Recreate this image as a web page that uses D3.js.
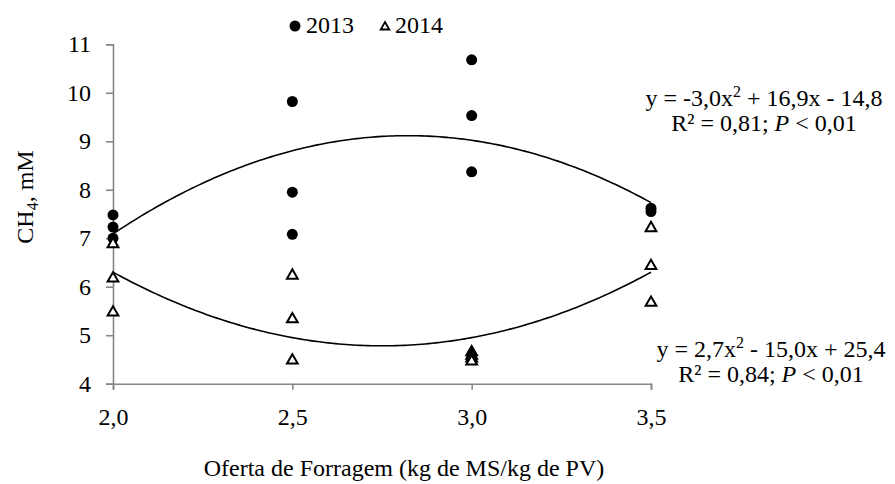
<!DOCTYPE html>
<html>
<head>
<meta charset="utf-8">
<script src="https://cdn.jsdelivr.net/npm/d3@7"></script>
<style>
	body { margin: 0; background: #fff; }
	svg text { font-family: "Liberation Serif", "Times New Roman", serif; font-size: 24px; fill: #000; }
	.axis path, .axis line { stroke: #868686; stroke-width: 1.6px; }
	.axis text { font-size: 24px; }
</style>
</head>
<body>
<script>
// chart data
var xTicks = [2.0, 2.5, 3.0, 3.5],
	yTicks = [4, 5, 6, 7, 8, 9, 10, 11];

var oferta2013 = [2.0, 2.0, 2.0, 2.5, 2.5, 2.5, 3.0, 3.0, 3.0, 3.5, 3.5],
	ch4_2013   = [7.48, 7.23, 7.00, 9.82, 7.95, 7.08, 10.68, 9.53, 8.37, 7.62, 7.55];

var oferta2014 = [2.0, 2.0, 2.0, 2.5, 2.5, 2.5, 3.0, 3.0, 3.0, 3.0, 3.5, 3.5, 3.5],
	ch4_2014   = [6.88, 6.17, 5.47, 6.23, 5.33, 4.48, 4.65, 4.58, 4.52, 4.46, 7.21, 6.43, 5.67];

// quadratic trendlines (a, b, c) as drawn
var fit2013 = [-3.0, 16.93, -14.77],
	fit2014 = [2.7, -14.85, 25.2];

var legendLabels = ["2013", "2014"];

var width = 895, height = 484;
var svg = d3.select("body").append("svg")
	.attr("width", width)
	.attr("height", height);

var xScale = d3.scaleLinear().domain([2.0, 3.5]).range([113, 651]),
	yScale = d3.scaleLinear().domain([4, 11]).range([383.7, 44.3]);

var comma = function(d) { return d3.format(".1f")(d).replace(".", ","); };

//axes
svg.append("g")
	.attr("class", "axis axis--x")
	.attr("transform", "translate(0," + yScale(4) + ")")
	.call(d3.axisBottom(xScale).tickValues(xTicks).tickFormat(comma).tickSizeOuter(0).tickSize(6).tickPadding(13));
svg.append("g")
	.attr("class", "axis axis--y")
	.attr("transform", "translate(" + xScale(2) + ",0)")
	.call(d3.axisLeft(yScale).tickValues(yTicks).tickFormat(d3.format("d")).tickSizeOuter(0).tickSize(7).tickPadding(15));
svg.selectAll(".axis text").attr("font-family", null);
svg.select(".axis--x").selectAll("text").attr("dy", "0.95em");

//trendlines
function quad(c) { return function(x) { return c[0] * x * x + c[1] * x + c[2]; }; }
var xs = d3.range(2.0, 3.5001, 0.01);
var line = d3.line();
[fit2013, fit2014].forEach(function(c) {
	var f = quad(c);
	svg.append("path")
		.attr("d", line(xs.map(function(x) { return [xScale(x), yScale(f(x))]; })))
		.attr("fill", "none")
		.attr("stroke", "#000")
		.attr("stroke-width", 1.6);
});

//points
var tri = d3.symbol(d3.symbolTriangle, 50);
svg.append("g").selectAll("circle")
	.data(d3.zip(oferta2013, ch4_2013)).enter()
		.append("circle")
		.attr("r", 5.5)
		.attr("cx", function(d) { return xScale(d[0]); })
		.attr("cy", function(d) { return yScale(d[1]); })
		.attr("fill", "#000");
svg.append("g").selectAll("path")
	.data(d3.zip(oferta2014, ch4_2014)).enter()
		.append("path")
		.attr("d", tri)
		.attr("transform", function(d) { return "translate(" + xScale(d[0]) + "," + yScale(d[1]) + ")"; })
		.attr("fill", "#fff")
		.attr("stroke", "#000")
		.attr("stroke-width", 2);

//legend
svg.append("circle").attr("cx", 295).attr("cy", 26).attr("r", 5.5).attr("fill", "#000");
svg.append("text").attr("x", 306).attr("y", 33).text(legendLabels[0]);
svg.append("path").attr("d", d3.symbol(d3.symbolTriangle, 32)).attr("transform", "translate(385,27)")
	.attr("fill", "#fff").attr("stroke", "#000").attr("stroke-width", 1.8);
svg.append("text").attr("x", 395).attr("y", 33).text(legendLabels[1]);

//axis titles
svg.append("text")
	.attr("x", 404)
	.attr("y", 476)
	.style("text-anchor", "middle")
	.text("Oferta de Forragem (kg de MS/kg de PV)");

var yTitle = svg.append("text")
	.attr("transform", "translate(33,197) rotate(-90)")
	.style("text-anchor", "middle");
yTitle.append("tspan").text("CH");
yTitle.append("tspan").attr("dy", 5).style("font-size", "16px").text("4");
yTitle.append("tspan").attr("dy", -5).text(", mM");

//equations
function equation(cx, y, a, b, c, r2) {
	var t1 = svg.append("text").attr("x", cx).attr("y", y).style("text-anchor", "middle");
	t1.append("tspan").text("y = " + a + "x");
	t1.append("tspan").attr("dy", -9).style("font-size", "16px").text("2");
	t1.append("tspan").attr("dy", 9).text(" " + b + "x " + c);
	var t2 = svg.append("text").attr("x", cx).attr("y", y + 25).style("text-anchor", "middle");
	t2.append("tspan").text("R² = " + r2 + "; ");
	t2.append("tspan").style("font-style", "italic").text("P");
	t2.append("tspan").text(" < 0,01");
}
equation(764, 106, "-3,0", "+ 16,9", "- 14,8", "0,81");
equation(771, 357, "2,7", "- 15,0", "+ 25,4", "0,84");
</script>
</body>
</html>
